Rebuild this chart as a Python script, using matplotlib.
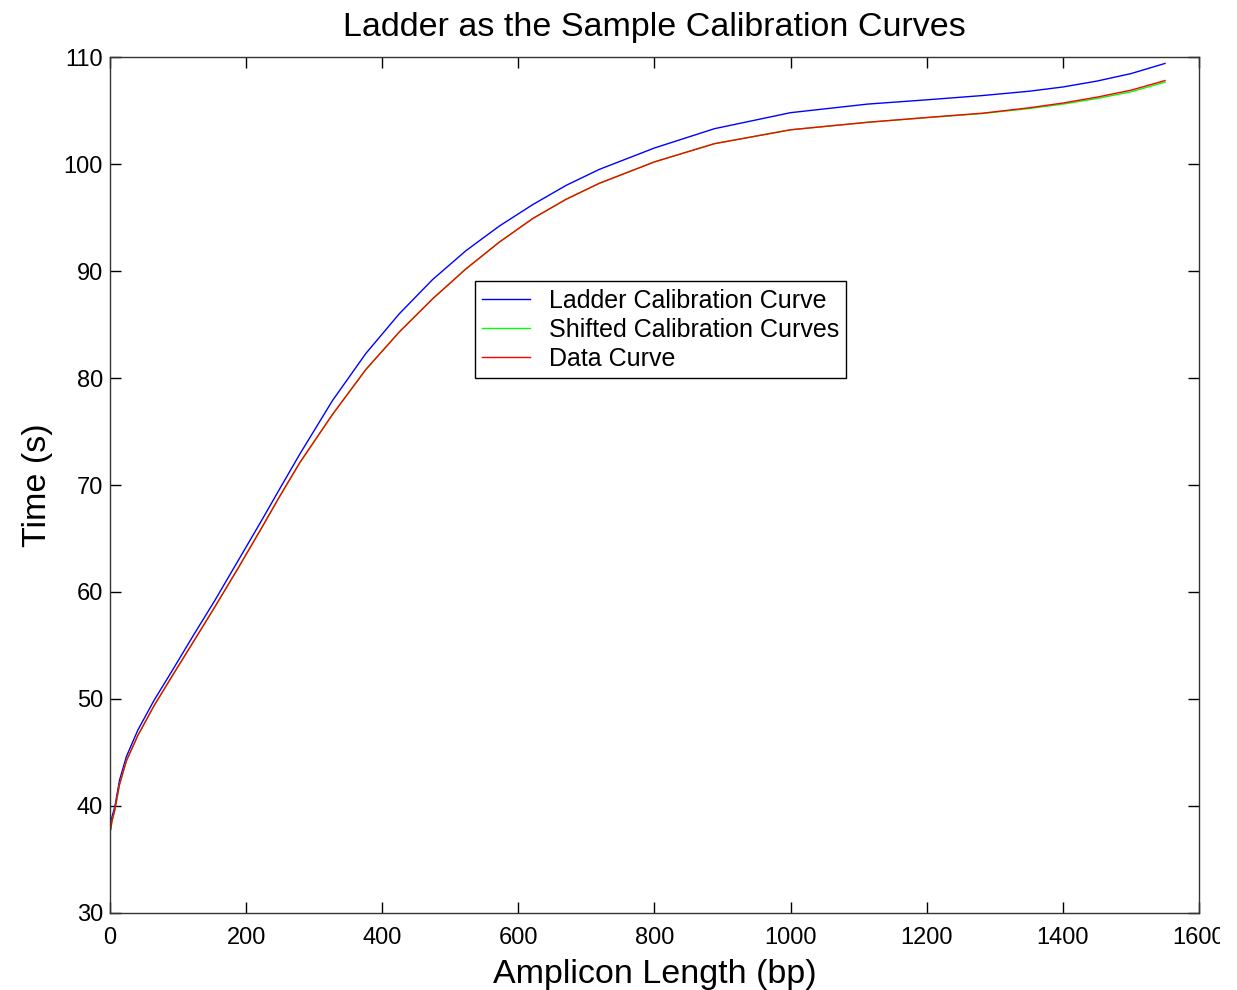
import matplotlib.pyplot as plt
from matplotlib.transforms import Bbox

# amplicon length (bp) sample positions
bp = [1, 3, 7, 14, 24, 41, 65, 90, 124, 154, 188, 222, 249, 279, 327, 376, 425, 474,
      523, 572, 621, 670, 719, 800, 888, 1000, 1113, 1200, 1282, 1350, 1400, 1450,
      1500, 1550]

# time (s)
ladder = [38.2, 39.0, 39.9, 42.4, 44.6, 47.1, 49.9, 52.5, 56.1, 59.2, 62.9, 66.6, 69.6, 72.9,
          77.9, 82.3, 86.0, 89.2, 91.9, 94.2, 96.2, 98.0, 99.5, 101.5, 103.3, 104.8,
          105.6, 106.0, 106.4, 106.8, 107.2, 107.75, 108.45, 109.4]
shifted = [37.8, 38.6, 39.6, 42.0, 44.2, 46.6, 49.4, 52.0, 55.5, 58.6, 62.2, 65.9, 68.9, 72.1,
           76.6, 80.8, 84.3, 87.4, 90.2, 92.7, 94.9, 96.7, 98.2, 100.2, 101.9, 103.2,
           103.9, 104.33, 104.72, 105.18, 105.6, 106.12, 106.75, 107.65]
data = [37.8, 38.6, 39.6, 42.0, 44.2, 46.6, 49.4, 52.0, 55.5, 58.6, 62.2, 65.9, 68.9, 72.1,
        76.6, 80.8, 84.3, 87.4, 90.2, 92.7, 94.9, 96.7, 98.2, 100.2, 101.9, 103.2,
        103.9, 104.35, 104.75, 105.25, 105.7, 106.25, 106.9, 107.8]

plt.rcParams['font.family'] = ['Liberation Sans', 'DejaVu Sans']

fig = plt.figure(figsize=(12.37, 9.9), dpi=100)
ax = fig.add_axes([0.0889, 0.0778, 0.8804, 0.8646])

ax.plot(bp, ladder, color=(0, 0, 1), lw=1.0, label='Ladder Calibration Curve')
ax.plot(bp, shifted, color=(0, 1, 0), lw=1.0, label='Shifted Calibration Curves')
ax.plot(bp, data, color=(1, 0, 0), lw=1.0, label='Data Curve')

ax.set_xlim(0, 1600)
ax.set_ylim(30, 110)
ax.set_xticks(range(0, 1601, 200))
ax.set_yticks(range(30, 111, 10))
ax.tick_params(direction='in', length=8, width=1, top=True, right=True,
               labelsize=17)
ax.tick_params(axis='x', pad=10)
ax.tick_params(axis='y', pad=5)
for s in ax.spines.values():
    s.set_linewidth(1)
    s.set_color('#333333')

ax.set_title('Ladder as the Sample Calibration Curves', fontsize=24.5, pad=15)
ax.set_xlabel('Amplicon Length (bp)', fontsize=24.5, labelpad=7)
ax.set_ylabel('Time (s)', fontsize=24.5, labelpad=8)

leg = ax.legend(loc='upper left', bbox_to_anchor=(0.335, 0.738), fontsize=18,
                fancybox=False, framealpha=1, edgecolor='black', handlelength=1.9,
                borderpad=0.3, labelspacing=0.2, handletextpad=0.75, borderaxespad=0)
leg.get_frame().set_linewidth(1)

# the reference image cuts off the last x tick label at its right edge
fig.canvas.draw()
ax.get_xticklabels()[-1].set_clip_box(Bbox([[0, 0], [1220, 990]]))
ax.get_xticklabels()[-1].set_clip_on(True)

fig.savefig('out.png', dpi=100, facecolor='white')
